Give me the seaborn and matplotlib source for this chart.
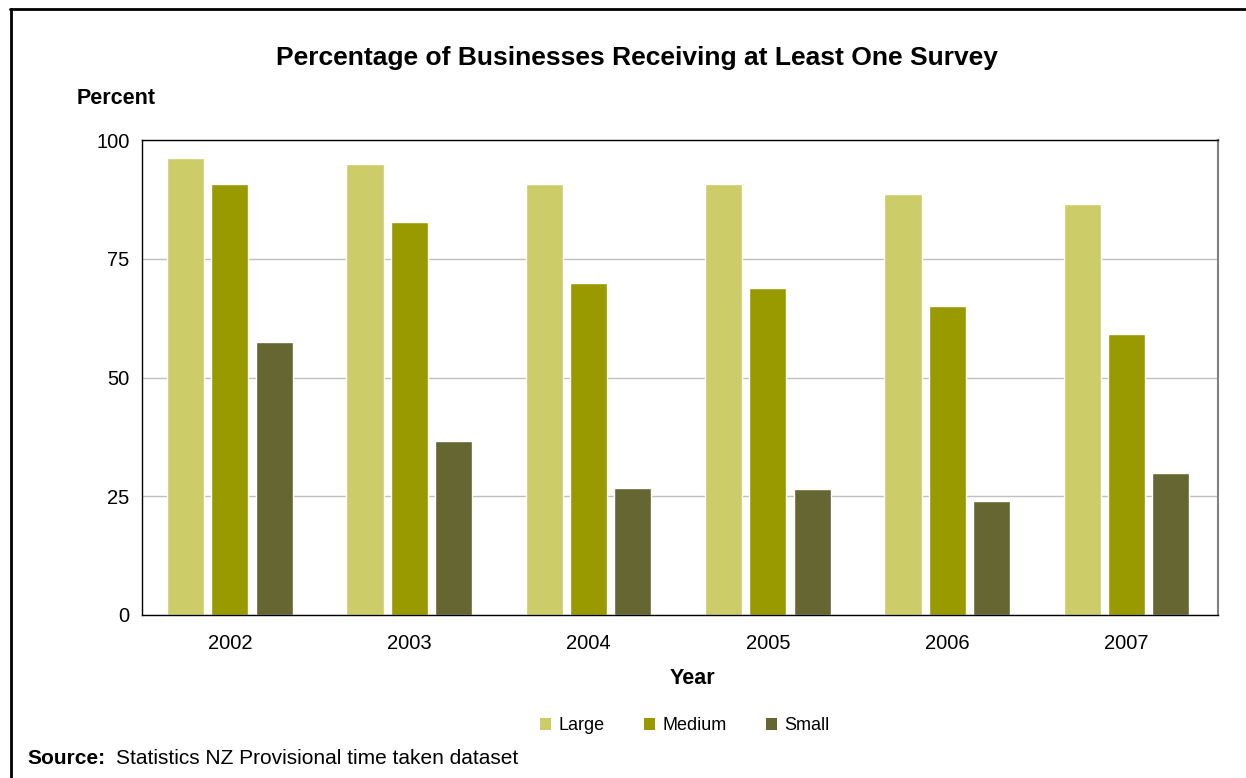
import matplotlib
matplotlib.use("Agg")
import matplotlib.pyplot as plt
import seaborn as sns
import pandas as pd
from matplotlib.patches import Patch
from matplotlib.lines import Line2D

years = ["2002", "2003", "2004", "2005", "2006", "2007"]
large = [96.2, 94.9, 90.7, 90.7, 88.6, 86.5]
medium = [90.7, 82.7, 70.0, 68.8, 65.0, 59.1]
small = [57.4, 36.7, 26.8, 26.6, 24.1, 30.0]
sizes = ["Large", "Medium", "Small"]
colors = ["#CCCC69", "#999900", "#666633"]
yticks = [0, 25, 50, 75, 100]

df = pd.DataFrame({
    "Year": years * 3,
    "Size": [s for s in sizes for _ in years],
    "Percent": large + medium + small,
})

sns.set_style("white")
plt.rcParams['font.family'] = ['Liberation Sans', 'DejaVu Sans']
plt.rcParams['text.color'] = 'black'
plt.rcParams['xtick.color'] = 'black'
plt.rcParams['ytick.color'] = 'black'
plt.rcParams['axes.labelcolor'] = 'black'

fig = plt.figure(figsize=(12.46, 7.78), dpi=100)
ax = fig.add_axes([142/1246, 1-615/778, (1218-142)/1246, (615-140)/778])

sns.barplot(data=df, x="Year", y="Percent", hue="Size", palette=colors,
            order=years, hue_order=sizes, width=0.74, gap=0.16,
            saturation=1, ax=ax, legend=False)

ax.set_ylim(0, 100)
ax.set_xlim(-0.49, 5.51)
ax.set_yticks(yticks)
ax.set_yticklabels([str(t) for t in yticks], fontsize=14.5, color='black')
ax.tick_params(axis='y', direction='out', length=5, width=1, color='black', pad=4)
ax.tick_params(axis='x', length=0, labelsize=14.5, pad=14, labelcolor='black')
ax.grid(axis='y', color='#C0C0C0', linewidth=1)
ax.set_axisbelow(True)
ax.set_xlabel("")
ax.set_ylabel("")
for side in ["left", "bottom", "top"]:
    ax.spines[side].set_visible(True)
    ax.spines[side].set_color("black")
    ax.spines[side].set_linewidth(1)
ax.spines["right"].set_visible(True)
ax.spines["right"].set_color("#808080")
ax.spines["right"].set_linewidth(1.5)

fig.text(637/1246, 1-58/778, "Percentage of Businesses Receiving at Least One Survey",
         ha='center', va='center', fontsize=19, fontweight='bold', color='black')
fig.text(77/1246, 1-99/778, "Percent", ha='left', va='center', fontsize=15.5,
         fontweight='bold', color='black')
fig.text(692/1246, 1-678/778, "Year", ha='center', va='center', fontsize=15.5,
         fontweight='bold', color='black')

handles = [Patch(facecolor=c, edgecolor='none') for c in colors]
fig.legend(handles, sizes, loc='center', bbox_to_anchor=(685/1246, 1-726/778),
           ncol=3, frameon=False, fontsize=13, handlelength=0.6, handleheight=0.6,
           columnspacing=2.2, handletextpad=0.4, labelcolor='black')

fig.text(27/1246, 1-758/778, "Source:", ha='left', va='center', fontsize=15,
         fontweight='bold', color='black')
fig.text(116/1246, 1-758/778, "Statistics NZ Provisional time taken dataset",
         ha='left', va='center', fontsize=15, color='black')

fig.add_artist(Line2D([10/1246, 1.0], [1-9/778, 1-9/778], transform=fig.transFigure,
                      color='black', linewidth=2))
fig.add_artist(Line2D([11/1246, 11/1246], [0, 1-9/778], transform=fig.transFigure,
                      color='black', linewidth=2))

fig.savefig("out.png", dpi=100)
